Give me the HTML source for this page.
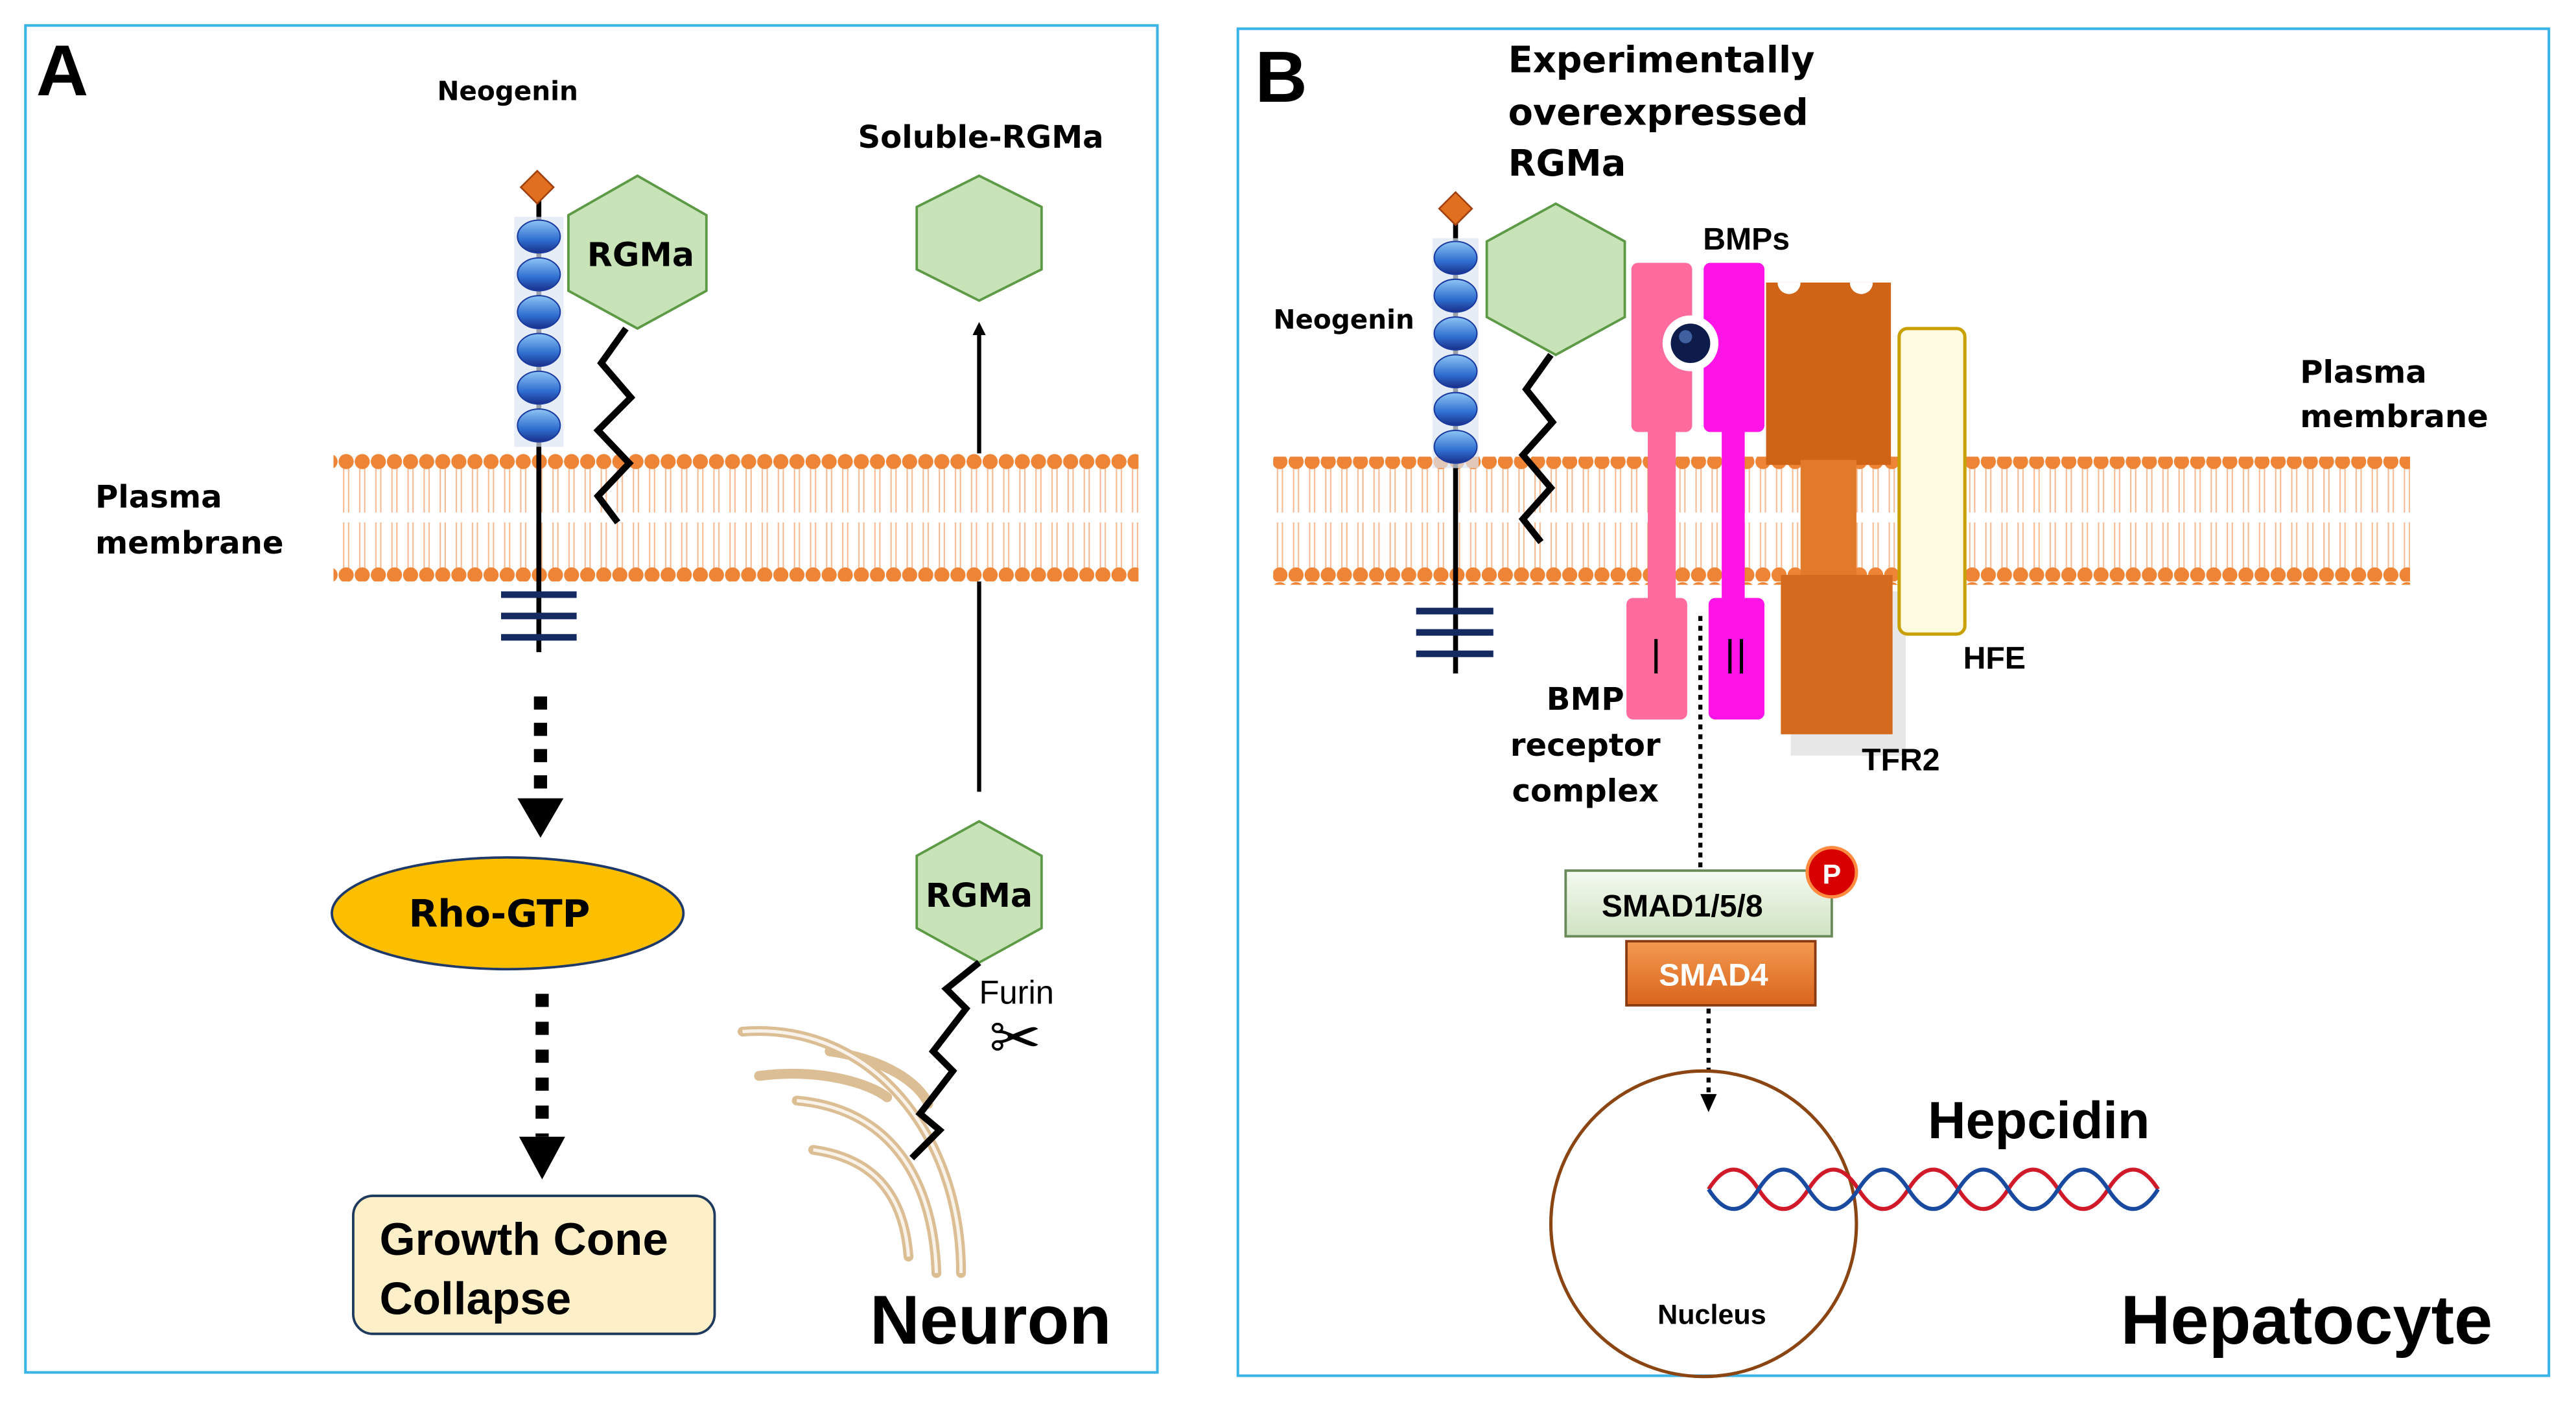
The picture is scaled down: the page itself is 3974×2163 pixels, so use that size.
<!DOCTYPE html>
<html><head><meta charset="utf-8"><style>html,body{margin:0;padding:0;background:#fff}svg{display:block}</style></head>
<body>
<svg width="3974" height="2163" viewBox="0 0 1568 853.5" preserveAspectRatio="none" xmlns="http://www.w3.org/2000/svg" font-family="Liberation Sans, sans-serif" font-weight="bold">
<defs>
<pattern id="mem" patternUnits="userSpaceOnUse" width="9.8" height="78" x="0" y="276">
<rect width="9.8" height="78" fill="#fff"/>
<line x1="3.4" y1="8" x2="3.4" y2="36" stroke="#f4b890" stroke-width="0.8"/>
<line x1="6.4" y1="8" x2="6.4" y2="36" stroke="#f4b890" stroke-width="0.8"/>
<line x1="3.4" y1="42" x2="3.4" y2="70" stroke="#f4b890" stroke-width="0.8"/>
<line x1="6.4" y1="42" x2="6.4" y2="70" stroke="#f4b890" stroke-width="0.8"/>
<circle cx="4.9" cy="5" r="4.6" fill="#ee8435"/>
<circle cx="4.9" cy="74" r="4.6" fill="#ee8435"/>
</pattern>
<linearGradient id="bead" x1="0" y1="0" x2="0" y2="1"><stop offset="0" stop-color="#8ec4f4"/><stop offset="0.6" stop-color="#2f6fd0"/><stop offset="1" stop-color="#1a2f8a"/></linearGradient>
<linearGradient id="smad" x1="0" y1="0" x2="0" y2="1"><stop offset="0" stop-color="#f4faf0"/><stop offset="1" stop-color="#cfe3c2"/></linearGradient>
<linearGradient id="smad4" x1="0" y1="0" x2="0" y2="1"><stop offset="0" stop-color="#f39a50"/><stop offset="1" stop-color="#d9641c"/></linearGradient>
<marker id="ah" markerWidth="8" markerHeight="8" refX="4" refY="4" orient="auto" markerUnits="userSpaceOnUse"><path d="M0,0 L8,4 L0,8 Z" fill="#000"/></marker>
</defs>

<rect x="15.5" y="15.5" width="689" height="820" fill="none" stroke="#3ab4e6" stroke-width="1.6"/>
<rect x="753.5" y="17.5" width="798" height="820" fill="none" stroke="#3ab4e6" stroke-width="1.6"/>
<text x="22" y="58" font-size="44">A</text>
<text x="764" y="62" font-size="44">B</text>

<text x="309" y="61" font-size="16" text-anchor="middle" font-family="DejaVu Sans, sans-serif">Neogenin</text>
<text x="597" y="90" font-size="19" text-anchor="middle" font-family="DejaVu Sans, sans-serif">Soluble-RGMa</text>
<text x="58" y="309" font-size="19" font-family="DejaVu Sans, sans-serif">Plasma</text>
<text x="58" y="337" font-size="19" font-family="DejaVu Sans, sans-serif">membrane</text>

<line x1="596" y1="482" x2="596" y2="200" stroke="#000" stroke-width="2.5" marker-end="url(#ah)"/>
<rect x="203" y="276" width="490" height="78" fill="url(#mem)"/>

<line x1="328" y1="122" x2="328" y2="397" stroke="#000" stroke-width="3"/>
<g stroke="#152a60" stroke-width="4"><line x1="305" y1="362" x2="351" y2="362"/><line x1="305" y1="375" x2="351" y2="375"/><line x1="305" y1="388" x2="351" y2="388"/></g>
<rect x="313" y="132" width="30" height="140" fill="#dde6f2" opacity="0.7"/>
<polygon points="327,104 337,114 327,124 317,114" fill="#e07020" stroke="#a04010" stroke-width="1"/>
<g fill="url(#bead)" stroke="#1a3aa0" stroke-width="0.8">
<ellipse cx="328" cy="144" rx="13" ry="10"/><ellipse cx="328" cy="167" rx="13" ry="10"/><ellipse cx="328" cy="190" rx="13" ry="10"/><ellipse cx="328" cy="213" rx="13" ry="10"/><ellipse cx="328" cy="236" rx="13" ry="10"/><ellipse cx="328" cy="259" rx="13" ry="10"/></g>
<polygon points="388,107 430,131 430,177 388,200 346,177 346,131" fill="#c9e3b8" stroke="#5c9a46" stroke-width="1.5"/>
<text x="390" y="162" font-size="20" text-anchor="middle" font-family="DejaVu Sans, sans-serif">RGMa</text>
<polyline points="381,200 366,221 384,242 364,262 383,282 364,302 376,318" fill="none" stroke="#000" stroke-width="4"/>

<line x1="329" y1="424" x2="329" y2="485" stroke="#000" stroke-width="8" stroke-dasharray="8,8"/>
<polygon points="315,486 343,486 329,510" fill="#000"/>
<ellipse cx="309" cy="556" rx="107" ry="34" fill="#fbbf00" stroke="#1f3a6a" stroke-width="1.5"/>
<text x="304" y="564" font-size="23" text-anchor="middle" font-family="DejaVu Sans, sans-serif">Rho-GTP</text>
<line x1="330" y1="605" x2="330" y2="692" stroke="#000" stroke-width="8" stroke-dasharray="8,9"/>
<polygon points="316,692 344,692 330,718" fill="#000"/>
<rect x="215" y="728" width="220" height="84" rx="12" fill="#fdf0c8" stroke="#1f3a5f" stroke-width="1.5"/>
<text x="231" y="764" font-size="28">Growth Cone</text>
<text x="231" y="800" font-size="28">Collapse</text>

<g fill="none" stroke="#d9b88a" stroke-width="6" stroke-linecap="round" opacity="0.9">
<path d="M452,628 C530,622 585,690 585,775"/>
<path d="M462,655 C500,650 530,660 540,668"/>
<path d="M485,670 C540,675 568,715 570,775"/>
<path d="M505,640 C540,645 560,660 565,672"/>
<path d="M495,700 C530,705 550,725 553,765"/>
</g>
<g fill="none" stroke="#fff" stroke-width="2" opacity="0.8">
<path d="M452,628 C530,622 585,690 585,775"/>
<path d="M485,670 C540,675 568,715 570,775"/>
<path d="M495,700 C530,705 550,725 553,765"/>
</g>
<polygon points="596,107 634,126 634,164 596,183 558,164 558,126" fill="#c9e3b8" stroke="#5c9a46" stroke-width="1.5"/>
<polygon points="596,500 634,521 634,565 596,586 558,565 558,521" fill="#c9e3b8" stroke="#5c9a46" stroke-width="1.5"/>
<text x="596" y="552" font-size="20" text-anchor="middle" font-family="DejaVu Sans, sans-serif">RGMa</text>
<polyline points="596,586 576,602 588,614 568,640 580,652 560,678 572,688 555,705" fill="none" stroke="#000" stroke-width="4"/>
<text x="596" y="611" font-size="20" font-weight="normal">Furin</text>
<text x="618" y="645" font-size="38" font-weight="normal" font-family="DejaVu Sans, sans-serif" text-anchor="middle">✂</text>
<text x="603" y="818" font-size="42" text-anchor="middle">Neuron</text>

<text x="918" y="44" font-size="22" font-family="DejaVu Sans, sans-serif">Experimentally</text>
<text x="918" y="76" font-size="22" font-family="DejaVu Sans, sans-serif">overexpressed</text>
<text x="918" y="107" font-size="22" font-family="DejaVu Sans, sans-serif">RGMa</text>
<text x="818" y="200" font-size="16" text-anchor="middle" font-family="DejaVu Sans, sans-serif">Neogenin</text>
<text x="1063" y="152" font-size="19" text-anchor="middle">BMPs</text>
<text x="1400" y="233" font-size="19" font-family="DejaVu Sans, sans-serif">Plasma</text>
<text x="1400" y="260" font-size="19" font-family="DejaVu Sans, sans-serif">membrane</text>

<rect x="775" y="278" width="692" height="78" fill="url(#mem)"/>

<line x1="886" y1="136" x2="886" y2="410" stroke="#000" stroke-width="3"/>
<g stroke="#152a60" stroke-width="4"><line x1="862" y1="372" x2="909" y2="372"/><line x1="862" y1="385" x2="909" y2="385"/><line x1="862" y1="398" x2="909" y2="398"/></g>
<rect x="872" y="145" width="28" height="140" fill="#dde6f2" opacity="0.7"/>
<polygon points="886,117 896,127 886,137 876,127" fill="#e07020" stroke="#a04010" stroke-width="1"/>
<g fill="url(#bead)" stroke="#1a3aa0" stroke-width="0.8">
<ellipse cx="886" cy="157" rx="13" ry="10"/><ellipse cx="886" cy="180" rx="13" ry="10"/><ellipse cx="886" cy="203" rx="13" ry="10"/><ellipse cx="886" cy="226" rx="13" ry="10"/><ellipse cx="886" cy="249" rx="13" ry="10"/><ellipse cx="886" cy="272" rx="13" ry="10"/></g>
<polygon points="947,124 989,147 989,193 947,216 905,193 905,147" fill="#c9e3b8" stroke="#5c9a46" stroke-width="1.5"/>
<polyline points="944,216 929,237 945,257 927,277 944,297 927,316 938,330" fill="none" stroke="#000" stroke-width="4"/>

<g fill="#ff6b9d"><rect x="993" y="160" width="37" height="103" rx="4"/><rect x="1003" y="262" width="17" height="104"/><rect x="990" y="364" width="37" height="74" rx="4"/></g>
<g fill="#ff14e8"><rect x="1037" y="160" width="37" height="103" rx="4"/><rect x="1048" y="262" width="14" height="104"/><rect x="1040" y="364" width="34" height="74" rx="4"/></g>
<circle cx="1029" cy="209" r="17" fill="#fff"/>
<circle cx="1029" cy="209" r="12" fill="#0d1c4a"/>
<circle cx="1026" cy="205" r="4" fill="#4060a0"/>
<line x1="1008" y1="389" x2="1008" y2="410" stroke="#000" stroke-width="2"/>
<line x1="1053" y1="389" x2="1053" y2="410" stroke="#000" stroke-width="2"/>
<line x1="1060" y1="389" x2="1060" y2="410" stroke="#000" stroke-width="2"/>

<rect x="1090" y="360" width="70" height="100" fill="#888" opacity="0.2"/>
<path d="M1075,172 L1151,172 L1151,283 L1075,283 Z" fill="#cf6316"/>
<path d="M1082,172 a7,7 0 0,0 14,0 M1126,172 a7,7 0 0,0 14,0" fill="#fff"/>
<rect x="1096" y="280" width="34" height="72" fill="#e17a2a"/>
<rect x="1084" y="350" width="68" height="97" fill="#d36a1e"/>
<text x="1157" y="469" font-size="19" text-anchor="middle">TFR2</text>

<rect x="1156" y="200" width="40" height="186" rx="5" fill="#fffbe0" stroke="#c8a000" stroke-width="2"/>
<text x="1214" y="407" font-size="19" text-anchor="middle">HFE</text>

<text x="965" y="432" font-size="19" text-anchor="middle" font-family="DejaVu Sans, sans-serif">BMP</text>
<text x="965" y="460" font-size="19" text-anchor="middle" font-family="DejaVu Sans, sans-serif">receptor</text>
<text x="965" y="488" font-size="19" text-anchor="middle" font-family="DejaVu Sans, sans-serif">complex</text>

<line x1="1035" y1="375" x2="1035" y2="530" stroke="#000" stroke-width="2.5" stroke-dasharray="3,3"/>

<rect x="953" y="530" width="162" height="40" fill="url(#smad)" stroke="#6a8a5a" stroke-width="1.5"/>
<text x="1024" y="558" font-size="19" text-anchor="middle">SMAD1/5/8</text>
<circle cx="1115" cy="531" r="15" fill="#d80000" stroke="#ff8a40" stroke-width="2"/>
<text x="1115" y="538" font-size="17" fill="#fff" text-anchor="middle">P</text>
<rect x="990" y="573" width="115" height="39" fill="url(#smad4)" stroke="#8a3a10" stroke-width="1.5"/>
<text x="1043" y="600" font-size="19" fill="#fff" text-anchor="middle">SMAD4</text>
<line x1="1040" y1="614" x2="1040" y2="668" stroke="#000" stroke-width="2.5" stroke-dasharray="3,3"/>
<polygon points="1035,666 1045,666 1040,677" fill="#000"/>

<circle cx="1037" cy="745" r="93" fill="none" stroke="#8b4513" stroke-width="2"/>
<text x="1042" y="806" font-size="17" text-anchor="middle">Nucleus</text>
<text x="1241" y="693" font-size="32" text-anchor="middle">Hepcidin</text>
<path d="M1040,724 q15.2,-24 30.4,0 t30.4,0 t30.4,0 t30.4,0 t30.4,0 t30.4,0 t30.4,0 t30.4,0 t30.4,0" fill="none" stroke="#d01a2a" stroke-width="2.4"/>
<path d="M1040,724 q15.2,24 30.4,0 t30.4,0 t30.4,0 t30.4,0 t30.4,0 t30.4,0 t30.4,0 t30.4,0 t30.4,0" fill="none" stroke="#1a4aa0" stroke-width="2.4"/>
<text x="1404" y="818" font-size="42" text-anchor="middle">Hepatocyte</text>
</svg>
</body></html>
